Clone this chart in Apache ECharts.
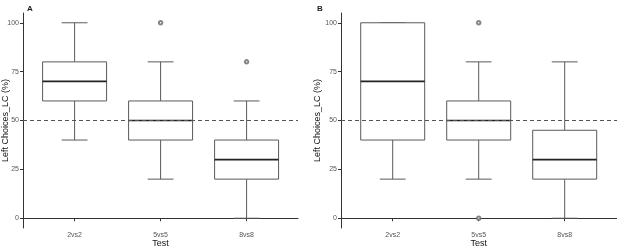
<!DOCTYPE html>
<html>
<head>
<meta charset="utf-8">
<script src="https://cdn.jsdelivr.net/npm/echarts@6/dist/echarts.min.js"></script>
<style>
html,body{margin:0;padding:0;background:#fff;}
#chart{width:617px;height:247px;}
</style>
</head>
<body>
<div id="chart"></div>
<script>
// categories + tick labels
var categories = ['2vs2', '5vs5', '8vs8'];
var yTicks = [0, 25, 50, 75, 100];
var refLine = 50;

// box stats per category: [min, Q1, median, Q3, max]
var boxA = [
  [40, 60, 70, 80, 100],
  [20, 40, 50, 60, 80],
  [0, 20, 30, 40, 60]
];
// outliers: [category index, value]
var outliersA = [[1, 100], [2, 80]];

var boxB = [
  [20, 40, 70, 100, 100],
  [20, 40, 50, 60, 80],
  [0, 20, 30, 45, 80]
];
var outliersB = [[1, 100], [1, 0]];

var font = 'Liberation Sans, Arial, sans-serif';
var chart = echarts.init(document.getElementById('chart'));

// draws one ggplot style box
function renderBox(params, api) {
  var i = api.value(0);
  var band = api.size([1, 0])[0];
  var x = api.coord([i, 0])[0];
  var hw = band * 0.372, cw = band * 0.15;
  var yMin = api.coord([i, api.value(1)])[1];
  var yQ1 = api.coord([i, api.value(2)])[1];
  var yMed = api.coord([i, api.value(3)])[1];
  var yQ3 = api.coord([i, api.value(4)])[1];
  var yMax = api.coord([i, api.value(5)])[1];
  var st = {stroke: '#5a5a5a', lineWidth: 1, fill: null};
  return {
    type: 'group',
    children: [
      {type: 'line', shape: {x1: x, y1: yMin, x2: x, y2: yQ1}, style: st},
      {type: 'line', shape: {x1: x, y1: yQ3, x2: x, y2: yMax}, style: st},
      {type: 'line', shape: {x1: x - cw, y1: yMin, x2: x + cw, y2: yMin}, style: st},
      {type: 'line', shape: {x1: x - cw, y1: yMax, x2: x + cw, y2: yMax}, style: st},
      {type: 'rect', shape: {x: x - hw, y: yQ3, width: hw * 2, height: yQ1 - yQ3}, style: {stroke: '#5a5a5a', lineWidth: 1, fill: '#fff'}},
      {type: 'line', shape: {x1: x - hw, y1: yMed, x2: x + hw, y2: yMed}, style: {stroke: '#222', lineWidth: 1.6}}
    ]
  };
}

function boxData(stats) {
  return stats.map(function (s, i) { return [i].concat(s); });
}

// two grids per panel: outer one carries axis lines, inner one the categories
var panels = [
  {axLeft: 23, axWidth: 275, boxLeft: 31.6, nameGap: 13, boxes: boxA, outliers: outliersA},
  {axLeft: 341, axWidth: 276, boxLeft: 349.7, nameGap: 19, boxes: boxB, outliers: outliersB}
];

var grid = [], xAxis = [], yAxis = [], series = [];
panels.forEach(function (p, k) {
  var g0 = k * 2, g1 = k * 2 + 1;
  grid.push({left: p.axLeft, top: 13, width: p.axWidth, height: 215, outerBoundsMode: 'none', containLabel: false});
  grid.push({left: p.boxLeft, top: 13, width: 258, height: 215, outerBoundsMode: 'none', containLabel: false});
  xAxis.push({
    type: 'value', gridIndex: g0, min: 0, max: 1,
    axisLine: {show: true, lineStyle: {color: '#333', width: 1}},
    axisTick: {show: false}, axisLabel: {show: false}, splitLine: {show: false}
  });
  xAxis.push({
    type: 'category', gridIndex: g1, data: categories, boundaryGap: true,
    name: 'Test', nameLocation: 'middle', nameGap: 11, nameMoveOverlap: false,
    nameTextStyle: {color: '#111', fontSize: 9, fontFamily: font},
    axisLine: {show: false},
    axisTick: {show: true, alignWithLabel: true, length: 3, lineStyle: {color: '#333'}},
    axisLabel: {color: '#555', fontSize: 7, margin: 4, fontFamily: font},
    splitLine: {show: false}
  });
  yAxis.push({
    type: 'value', gridIndex: g0, min: -5, max: 105,
    name: 'Left Choices_LC (%)', nameLocation: 'middle', nameGap: p.nameGap, nameMoveOverlap: false,
    nameTextStyle: {color: '#111', fontSize: 9, fontFamily: font},
    axisLine: {show: true, lineStyle: {color: '#333', width: 1}},
    axisTick: {show: true, length: 3, customValues: yTicks, lineStyle: {color: '#333'}},
    axisLabel: {color: '#555', fontSize: 7, margin: 4, customValues: yTicks, fontFamily: font},
    splitLine: {show: false}
  });
  yAxis.push({
    type: 'value', gridIndex: g1, min: -5, max: 105, show: false, splitLine: {show: false}
  });
  series.push({
    type: 'line', xAxisIndex: g0, yAxisIndex: g0, data: [], silent: true,
    markLine: {
      symbol: 'none', silent: true, label: {show: false},
      lineStyle: {color: '#555', type: [4, 3], width: 1.2},
      data: [{yAxis: refLine}]
    }
  });
  series.push({
    type: 'custom', xAxisIndex: g1, yAxisIndex: g1, z: 3,
    encode: {x: 0, y: [1, 2, 3, 4, 5]},
    renderItem: renderBox, data: boxData(p.boxes)
  });
  series.push({
    type: 'scatter', xAxisIndex: g1, yAxisIndex: g1, z: 4,
    encode: {x: 0, y: 1},
    symbol: 'emptyCircle', symbolSize: 3.5,
    itemStyle: {color: '#666', borderColor: '#666', borderWidth: 0.6},
    data: p.outliers
  });
});

chart.setOption({
  animation: false,
  backgroundColor: '#fff',
  title: [
    {text: 'A', left: 22, top: 0, textStyle: {fontSize: 8, fontWeight: 'bold', color: '#222', fontFamily: font}},
    {text: 'B', left: 312, top: 0, textStyle: {fontSize: 8, fontWeight: 'bold', color: '#222', fontFamily: font}}
  ],
  grid: grid,
  xAxis: xAxis,
  yAxis: yAxis,
  series: series
});
</script>
</body>
</html>
